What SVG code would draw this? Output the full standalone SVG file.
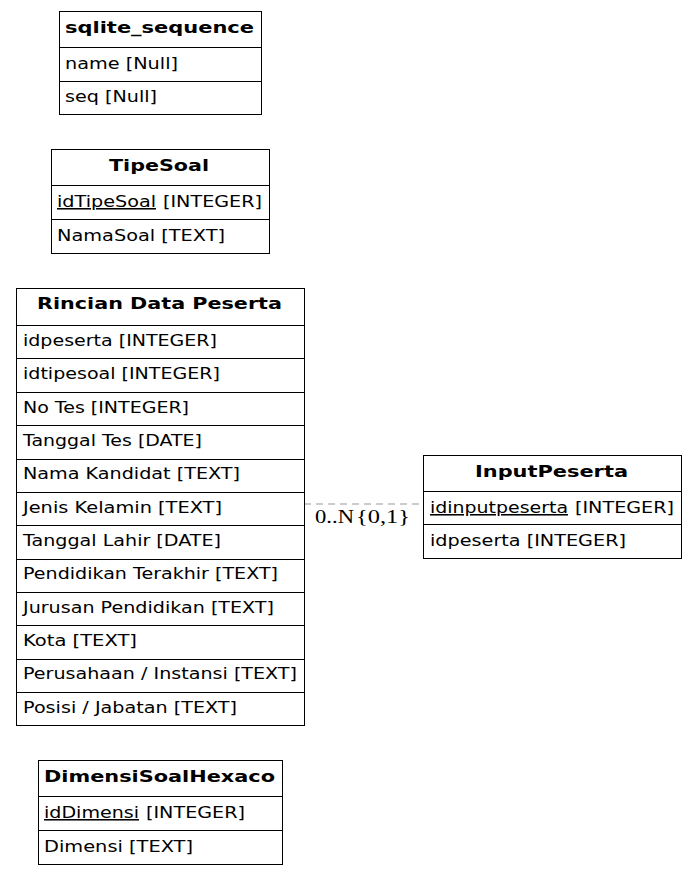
<svg xmlns="http://www.w3.org/2000/svg" width="696" height="875" viewBox="0 0 696 875">
<style>
.box{fill:#fff;stroke:#000;stroke-width:1}
.ln{stroke:#000;stroke-width:1}
.h{font-family:"DejaVu Sans",sans-serif;font-size:16px;font-weight:bold;fill:#000}
.f{font-family:"DejaVu Sans",sans-serif;font-size:15.5px;fill:#000}
.u{text-decoration:underline}
.lbl{font-family:"Liberation Serif","DejaVu Serif",serif;font-size:19px;fill:#000}
.edge{stroke:#999;stroke-width:1;stroke-dasharray:7,5;fill:none}
</style>
<rect width="696" height="875" fill="#fff"/>
<g id="connectors">
<line class="edge" x1="304" y1="504" x2="423" y2="504"/>
<text class="lbl" x="315" y="523" textLength="39" lengthAdjust="spacingAndGlyphs">0..N</text>
<text class="lbl" x="356" y="523" textLength="54" lengthAdjust="spacingAndGlyphs">{0,1}</text>
</g>
<g id="sqlite_sequence">
<rect class="box" x="59.5" y="11.5" width="202" height="103"/>
<line class="ln" x1="59.5" y1="47.5" x2="261.5" y2="47.5"/>
<line class="ln" x1="59.5" y1="81.5" x2="261.5" y2="81.5"/>
<text class="h" x="65" y="33" textLength="189" lengthAdjust="spacingAndGlyphs">sqlite_sequence</text>
<text class="f" x="65" y="69" textLength="113" lengthAdjust="spacingAndGlyphs">name [Null]</text>
<text class="f" x="65" y="102" textLength="92" lengthAdjust="spacingAndGlyphs">seq [Null]</text>
</g>
<g id="TipeSoal">
<rect class="box" x="51.5" y="149.5" width="218" height="104"/>
<line class="ln" x1="51.5" y1="185.5" x2="269.5" y2="185.5"/>
<line class="ln" x1="51.5" y1="219.5" x2="269.5" y2="219.5"/>
<text class="h" x="109" y="171" textLength="100" lengthAdjust="spacingAndGlyphs">TipeSoal</text>
<text class="f" x="57" y="207"><tspan class="u" textLength="99" lengthAdjust="spacingAndGlyphs">idTipeSoal</tspan><tspan x="163" textLength="99" lengthAdjust="spacingAndGlyphs">[INTEGER]</tspan></text>
<text class="f" x="57" y="241" textLength="168" lengthAdjust="spacingAndGlyphs">NamaSoal [TEXT]</text>
</g>
<g id="RincianDataPeserta">
<rect class="box" x="16.5" y="288.5" width="288" height="437"/>
<line class="ln" x1="16.5" y1="325.5" x2="304.5" y2="325.5"/>
<line class="ln" x1="16.5" y1="358.5" x2="304.5" y2="358.5"/>
<line class="ln" x1="16.5" y1="392.5" x2="304.5" y2="392.5"/>
<line class="ln" x1="16.5" y1="425.5" x2="304.5" y2="425.5"/>
<line class="ln" x1="16.5" y1="459.5" x2="304.5" y2="459.5"/>
<line class="ln" x1="16.5" y1="492.5" x2="304.5" y2="492.5"/>
<line class="ln" x1="16.5" y1="525.5" x2="304.5" y2="525.5"/>
<line class="ln" x1="16.5" y1="559.5" x2="304.5" y2="559.5"/>
<line class="ln" x1="16.5" y1="592.5" x2="304.5" y2="592.5"/>
<line class="ln" x1="16.5" y1="625.5" x2="304.5" y2="625.5"/>
<line class="ln" x1="16.5" y1="659.5" x2="304.5" y2="659.5"/>
<line class="ln" x1="16.5" y1="692.5" x2="304.5" y2="692.5"/>
<text class="h" x="37" y="309" textLength="245" lengthAdjust="spacingAndGlyphs">Rincian Data Peserta</text>
<text class="f" x="23" y="346" textLength="194" lengthAdjust="spacingAndGlyphs">idpeserta [INTEGER]</text>
<text class="f" x="23" y="379" textLength="197" lengthAdjust="spacingAndGlyphs">idtipesoal [INTEGER]</text>
<text class="f" x="23" y="413" textLength="166" lengthAdjust="spacingAndGlyphs">No Tes [INTEGER]</text>
<text class="f" x="23" y="446" textLength="179" lengthAdjust="spacingAndGlyphs">Tanggal Tes [DATE]</text>
<text class="f" x="23" y="479" textLength="217" lengthAdjust="spacingAndGlyphs">Nama Kandidat [TEXT]</text>
<text class="f" x="23" y="513" textLength="199" lengthAdjust="spacingAndGlyphs">Jenis Kelamin [TEXT]</text>
<text class="f" x="23" y="546" textLength="198" lengthAdjust="spacingAndGlyphs">Tanggal Lahir [DATE]</text>
<text class="f" x="23" y="579" textLength="255" lengthAdjust="spacingAndGlyphs">Pendidikan Terakhir [TEXT]</text>
<text class="f" x="23" y="613" textLength="251" lengthAdjust="spacingAndGlyphs">Jurusan Pendidikan [TEXT]</text>
<text class="f" x="23" y="646" textLength="114" lengthAdjust="spacingAndGlyphs">Kota [TEXT]</text>
<text class="f" x="23" y="679" textLength="274" lengthAdjust="spacingAndGlyphs">Perusahaan / Instansi [TEXT]</text>
<text class="f" x="23" y="713" textLength="214" lengthAdjust="spacingAndGlyphs">Posisi / Jabatan [TEXT]</text>
</g>
<g id="InputPeserta">
<rect class="box" x="423.5" y="455.5" width="258" height="103"/>
<line class="ln" x1="423.5" y1="491.5" x2="681.5" y2="491.5"/>
<line class="ln" x1="423.5" y1="524.5" x2="681.5" y2="524.5"/>
<text class="h" x="475" y="477" textLength="153" lengthAdjust="spacingAndGlyphs">InputPeserta</text>
<text class="f" x="430" y="513"><tspan class="u" textLength="138" lengthAdjust="spacingAndGlyphs">idinputpeserta</tspan><tspan x="575" textLength="99" lengthAdjust="spacingAndGlyphs">[INTEGER]</tspan></text>
<text class="f" x="430" y="546" textLength="196" lengthAdjust="spacingAndGlyphs">idpeserta [INTEGER]</text>
</g>
<g id="DimensiSoalHexaco">
<rect class="box" x="38.5" y="760.5" width="244" height="104"/>
<line class="ln" x1="38.5" y1="796.5" x2="282.5" y2="796.5"/>
<line class="ln" x1="38.5" y1="830.5" x2="282.5" y2="830.5"/>
<text class="h" x="44" y="782" textLength="231" lengthAdjust="spacingAndGlyphs">DimensiSoalHexaco</text>
<text class="f" x="44" y="818"><tspan class="u" textLength="95" lengthAdjust="spacingAndGlyphs">idDimensi</tspan><tspan x="146" textLength="99" lengthAdjust="spacingAndGlyphs">[INTEGER]</tspan></text>
<text class="f" x="44" y="852" textLength="149" lengthAdjust="spacingAndGlyphs">Dimensi [TEXT]</text>
</g>
</svg>
